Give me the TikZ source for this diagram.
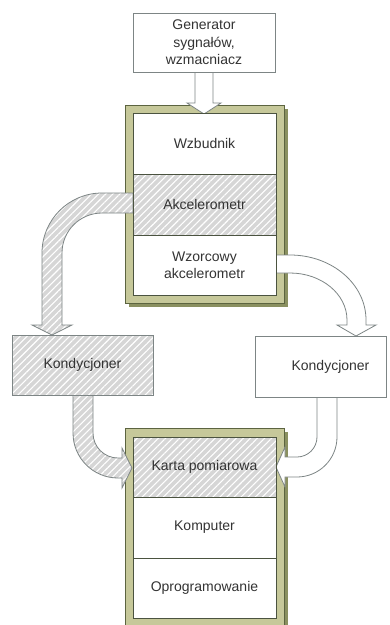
\documentclass[tikz,border=0pt]{standalone}
\usepackage{fontspec}
\setmainfont{Liberation Sans}
\usetikzlibrary{patterns.meta,shadows}
\definecolor{boxline}{HTML}{7D8585}
\definecolor{innerline}{HTML}{4B5340}
\definecolor{framefill}{HTML}{C6C89A}
\definecolor{frameline}{HTML}{5C6440}
\definecolor{frameshadow}{HTML}{8A9060}
\definecolor{hatchbg}{HTML}{D6D6D6}
\definecolor{txt}{HTML}{333333}
\begin{document}
\begin{tikzpicture}[x=1pt,y=-1pt,
  box/.style={draw=boxline, line width=0.8pt, fill=white, inner sep=0pt, outer sep=0pt,
    anchor=north west, align=center, font=\fontsize{14}{17.5}\selectfont, text=txt},
  inbox/.style={box, draw=innerline},
  hatched/.style={preaction={fill=hatchbg}, pattern={Lines[angle=45,distance=5pt,line width=1.1pt]}, pattern color=white},
  frame/.style={draw=frameline, line width=0.8pt, fill=framefill, inner sep=0pt, outer sep=0pt,
    anchor=north west, general shadow={fill=frameshadow, shadow xshift=4pt, shadow yshift=-4pt}},
  blockarrow/.style={draw=boxline, line width=0.8pt, line join=miter}
]
\useasboundingbox (0,0) rectangle (390,625);

% frames
\node[frame, minimum width=159pt, minimum height=198pt] (fr1) at (125,105) {};
\node[frame, minimum width=159pt, minimum height=200pt] (fr2) at (125,428) {};

% top arrow
\draw[blockarrow, fill=white] (195,72) -- (195,103) -- (187,103) -- (204,114) -- (221,103) -- (213,103) -- (213,72) -- cycle;

% generator box
\node[box, minimum width=142pt, minimum height=59pt] (gen) at (133,13) {Generator\\sygnałów,\\wzmacniacz};

% upper arrows
\draw[blockarrow, hatched] (133,193) -- (102,193) .. controls (68.9,193) and (42,219.9) .. (42,253)
  -- (42,325) -- (32,325) -- (52,335) -- (72,325) -- (62,325) -- (62,253)
  .. controls (62,230.9) and (79.9,213) .. (102,213) -- (133,213) -- cycle;
\draw[blockarrow, fill=white] (276,255) -- (290,255) .. controls (332,255) and (366,284.1) .. (366,320)
  -- (366,325) -- (376,325) -- (356,336) -- (337,325) -- (347,325) -- (347,320)
  .. controls (347,294) and (321.5,273) .. (290,273) -- (276,273) -- cycle;

% inner boxes upper
\node[inbox, minimum width=143pt, minimum height=61pt] (wzb) at (133,113) {Wzbudnik};
\node[inbox, hatched, minimum width=143pt, minimum height=61pt] (akc) at (133,174) {Akcelerometr};
\node[inbox, minimum width=143pt, minimum height=60pt] (wzor) at (133,235) {Wzorcowy\\akcelerometr};

% lower arrows
\draw[blockarrow, hatched] (73,395) -- (73,433) .. controls (73,457.9) and (93.1,478) .. (118,478)
  -- (122,478) -- (122,488) -- (132,468) -- (122,448) -- (122,458) -- (118,458)
  .. controls (104.2,458) and (93,446.8) .. (93,433) -- (93,395) -- cycle;
\draw[blockarrow, fill=white] (337,397) -- (337,437) .. controls (337,459.1) and (319.1,477) .. (297,477)
  -- (285,477) -- (285,487) -- (276,467) -- (285,447) -- (285,457) -- (297,457)
  .. controls (308,457) and (317,448) .. (317,437) -- (317,397) -- cycle;

% conditioner boxes
\node[box, hatched, minimum width=141pt, minimum height=60pt] (kondL) at (12,335) {Kondycjoner};
\node[box, minimum width=131pt, minimum height=61pt] (kondR) at (255,336) {\hspace*{20pt}Kondycjoner};

% inner boxes lower
\node[inbox, hatched, minimum width=143pt, minimum height=60pt] (karta) at (133,437) {Karta pomiarowa};
\node[inbox, minimum width=143pt, minimum height=61pt] (komp) at (133,497) {Komputer};
\node[inbox, minimum width=143pt, minimum height=60pt] (opr) at (133,558) {Oprogramowanie};
\end{tikzpicture}
\end{document}
